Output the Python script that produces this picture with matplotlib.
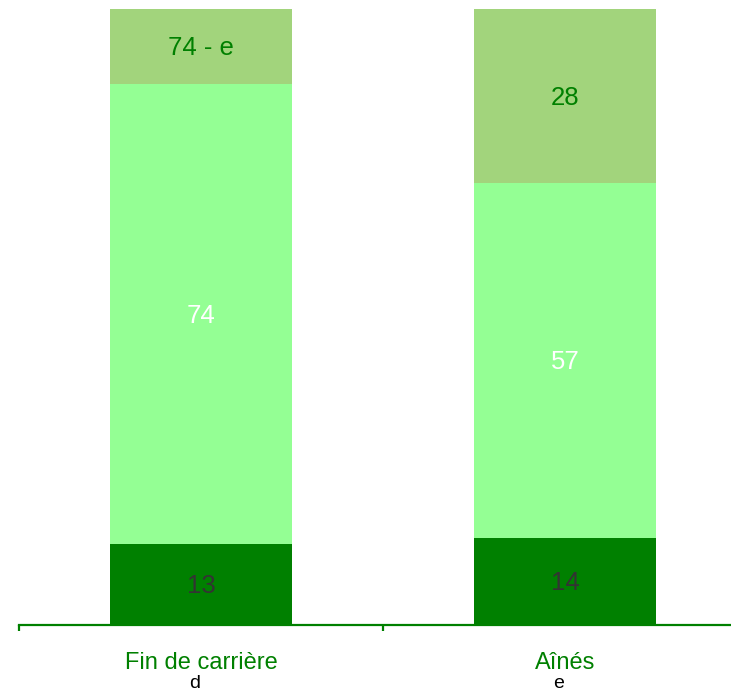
import matplotlib
matplotlib.use('Agg')
import matplotlib.pyplot as plt

categories = ['Fin de carrière', 'Aînés']
sublabels = ['d', 'e']
bottom_vals = [13, 14]
middle_vals = [74, 57]
top_vals = [12, 28]
bottom_labels = ['13', '14']
middle_labels = ['74', '57']
top_labels = ['74 - e', '28']

plt.rcParams['font.family'] = ['Liberation Sans', 'DejaVu Sans']

fig = plt.figure(figsize=(7.31, 6.91), dpi=100)
W, H = 731, 691
# axes spans pixels x 19..747, y 9..625
ax = fig.add_axes([19 / W, (H - 625) / H, (747 - 19) / W, (625 - 9) / H])

x = [0, 1]
width = 0.5
dark = '#008000'
light = '#94FF94'
olive = '#A2D47C'

ax.bar(x, bottom_vals, width, color=dark)
ax.bar(x, middle_vals, width, bottom=bottom_vals, color=light)
mid_top = [b + m for b, m in zip(bottom_vals, middle_vals)]
ax.bar(x, top_vals, width, bottom=mid_top, color=olive)

fs = 18.5
dy = -0.3  # small downward nudge of in-bar labels
for i in x:
    ax.text(i, bottom_vals[i] / 2 + dy, bottom_labels[i], ha='center', va='center',
            color='#333333', fontsize=fs)
    ax.text(i, bottom_vals[i] + middle_vals[i] / 2 + dy, middle_labels[i], ha='center',
            va='center', color='white', fontsize=fs)
    ax.text(i, mid_top[i] + top_vals[i] / 2 + dy, top_labels[i], ha='center',
            va='center', color=dark, fontsize=fs)
    ax.text(i, -38 / 616, categories[i], transform=ax.get_xaxis_transform(),
            ha='center', va='center', color=dark, fontsize=17)
    ax.text(i - 0.017, -58 / 616, sublabels[i], transform=ax.get_xaxis_transform(),
            ha='center', va='center', color='black', fontsize=14)

ax.set_xlim(-0.5, 1.5)
ax.set_ylim(0, 99)
for s in ['top', 'right', 'left']:
    ax.spines[s].set_visible(False)
ax.spines['bottom'].set_color(dark)
ax.spines['bottom'].set_linewidth(1.6)
ax.set_yticks([])
ax.set_xticks([-0.5, 0.5])
ax.set_xticklabels([])
ax.tick_params(axis='x', colors=dark, length=4.5, width=1.6, direction='out')

fig.savefig('out.png', dpi=100)
